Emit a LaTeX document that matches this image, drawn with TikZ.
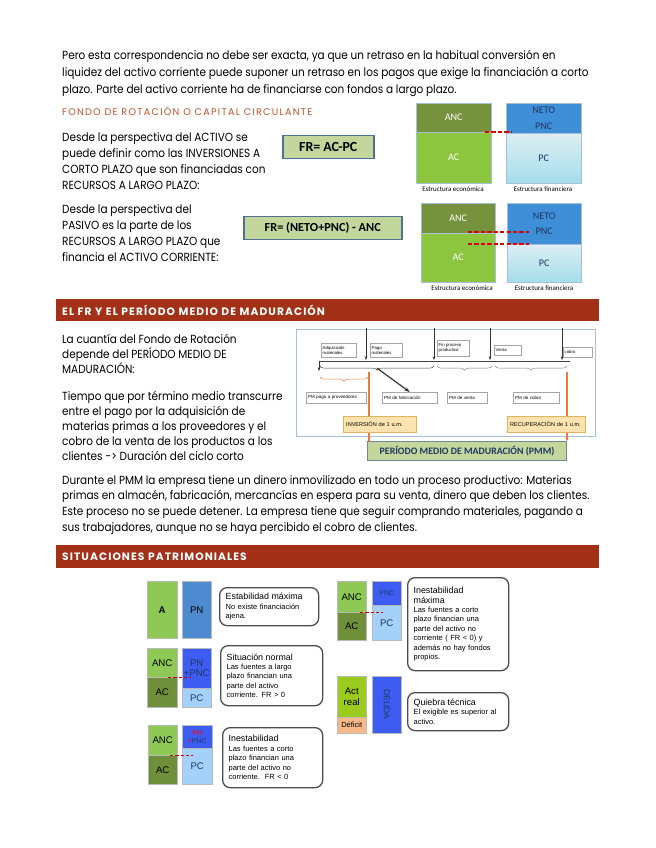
\documentclass[tikz,border=0pt]{standalone}
\usepackage{fontspec}
\setmainfont{Poppins}[FakeStretch=0.89]
\newfontfamily\headfont{Poppins}[LetterSpace=10]
\newfontfamily\thinhead{Poppins}[LetterSpace=13]
\newfontfamily\calfont{Carlito}
\newfontfamily\arialfont{Liberation Sans}
\usetikzlibrary{arrows.meta, decorations.pathreplacing, positioning}

\definecolor{barred}{HTML}{A33118}
\definecolor{headorange}{HTML}{C4532A}
\definecolor{formgreen}{HTML}{C3D69B}
\definecolor{formedge}{HTML}{4F6F95}
\definecolor{olive}{HTML}{76923C}
\definecolor{leaf}{HTML}{8CC63F}
\definecolor{netoblue}{HTML}{3F8ED8}
\definecolor{pctop}{HTML}{DDEEF3}
\definecolor{pcbot}{HTML}{A4DDEB}
\definecolor{navy}{HTML}{1F3864}
\definecolor{framblue}{HTML}{A7C0D6}
\definecolor{invfill}{HTML}{FCE3B0}
\definecolor{invedge}{HTML}{E2B35E}
\definecolor{pmmorange}{HTML}{EE7A3A}
\definecolor{sitgreen}{HTML}{8FC955}
\definecolor{sitolive}{HTML}{6F8F3A}
\definecolor{pnblue}{HTML}{4E8AD0}
\definecolor{deepblue}{HTML}{3C5CF2}
\definecolor{skyblue}{HTML}{A3D1FA}
\definecolor{actreal}{HTML}{9BCB1E}
\definecolor{deficit}{HTML}{F7B88A}

\def\pxu{0.9344pt}

\tikzset{
  body/.style={anchor=north west, inner sep=0, align=left, font=\fontsize{11}{15}\selectfont},
  sz/.style 2 args={minimum width=#1*\pxu, minimum height=#2*\pxu},
  tw/.style={text width=#1*\pxu},
  bar/.style={fill=barred, anchor=north west, inner xsep=6*\pxu, inner ysep=0, text=white, align=left,
    font=\headfont\bfseries\fontsize{10}{11}\selectfont},
  formula/.style={draw=formedge, line width=1.4pt, fill=formgreen, anchor=north west, inner sep=0,
    font=\calfont\bfseries\fontsize{11.5}{13}\selectfont},
  struct/.style={draw=framblue, inner sep=0, anchor=north west, align=center,
    font=\calfont\fontsize{9.5}{14.5}\selectfont},
  captxt/.style={inner sep=0, font=\calfont\fontsize{6.5}{7}\selectfont},
  reddash/.style={red!85!black, line width=1.6pt, dash pattern=on 4pt off 2pt},
  ev/.style={draw=gray!70, anchor=north west, align=left, inner xsep=1.5*\pxu, inner ysep=1*\pxu,
    font=\arialfont\fontsize{4}{4.6}\selectfont},
  pm/.style={draw=gray!70, anchor=north west, align=left, inner xsep=2*\pxu, inner ysep=0,
    minimum height=11*\pxu, font=\arialfont\fontsize{4.2}{5}\selectfont},
  um/.style={draw=invedge, fill=invfill, anchor=north west, align=left, inner xsep=3*\pxu, inner ysep=0,
    minimum height=16*\pxu, font=\arialfont\fontsize{5.2}{6}\selectfont},
  evarrow/.style={-{Stealth[length=3.5pt,width=2.5pt]}, black!80},
  curly/.style={decorate, decoration={brace, mirror, amplitude=4pt}},
  sit/.style={draw=gray!55, inner sep=0, anchor=north west, align=center,
    font=\arialfont\fontsize{9}{10}\selectfont},
  note/.style={draw=black!70, line width=1.2pt, rounded corners=7pt, anchor=north west, align=left,
    inner xsep=6*\pxu, inner ysep=2*\pxu, font=\arialfont\fontsize{7}{8.8}\selectfont}
}

\begin{document}
\begin{tikzpicture}[x=0.9344pt, y=-0.9344pt]
\useasboundingbox (0,0) rectangle (655,848);
\fill[white] (0,0) rectangle (655,848);

% opening paragraph
\node[body, font=\fontsize{11}{15.9}\selectfont] (intro) at (62,50) {Pero esta correspondencia no debe ser exacta, ya que un retraso en la habitual conversión en\\
liquidez del activo corriente puede suponer un retraso en los pagos que exige la financiación a corto\\
plazo. Parte del activo corriente ha de financiarse con fondos a largo plazo.};

\node[anchor=north west, inner sep=0, text=headorange, font=\thinhead\fontsize{9}{10}\selectfont] (fondo) at (62,106)
  {FONDO DE ROTACIÓN O CAPITAL CIRCULANTE};

\node[body] (activo) at (62,132) {Desde la perspectiva del ACTIVO se\\
puede definir como las INVERSIONES A\\
CORTO PLAZO que son financiadas con\\
RECURSOS A LARGO PLAZO:};
\node[body] (pasivo) at (62,204) {Desde la perspectiva del\\
PASIVO es la parte de los\\
RECURSOS A LARGO PLAZO que\\
financia el ACTIVO CORRIENTE:};

\node[formula, sz={91}{23}, font=\calfont\bfseries\fontsize{13}{14}\selectfont] (frA) at (282,135) {FR= AC-PC};
\node[formula, sz={158}{23}] (frB) at (243,216) {FR= (NETO+PNC) - ANC};

% estructura economica / financiera
\node[struct, sz={75}{29}, fill=olive, text=white] (ancA) at (416,103) {ANC};
\node[struct, sz={75}{51}, fill=leaf, text=white] (acA) at (416,132) {AC};
\node[struct, sz={75}{30}, fill=netoblue, text=navy] (netoA) at (506,103) {NETO\\PNC};
\node[struct, sz={75}{50}, top color=pctop, bottom color=pcbot, text=navy] (pcA) at (506,133) {PC};
\node[captxt] (ecoA) at (453,189) {Estructura económica};
\node[captxt] (finA) at (543,189) {Estructura financiera};
\draw[reddash] (485,132) -- (512,132);

\node[struct, sz={74}{30}, fill=olive, text=white] (ancB) at (421,203) {ANC};
\node[struct, sz={74}{49}, fill=leaf, text=white] (acB) at (421,233) {AC};
\node[struct, sz={74}{41}, fill=netoblue, text=navy] (netoB) at (507,203) {NETO\\PNC};
\node[struct, sz={74}{38}, top color=pctop, bottom color=pcbot, text=navy] (pcB) at (507,244) {PC};
\node[captxt] (ecoB) at (462,288) {Estructura económica};
\node[captxt] (finB) at (544,288) {Estructura financiera};
\draw[reddash] (468,232) -- (529,232);
\draw[reddash] (468,244) -- (529,244);

% periodo medio de maduracion
\node[bar, tw=531, sz={543}{22}] (barA) at (56,299) {EL FR Y EL PERÍODO MEDIO DE MADURACIÓN};

\node[body, font=\fontsize{11}{14}\selectfont] (cuantia) at (62,334) {La cuantía del Fondo de Rotación\\
depende del PERÍODO MEDIO DE\\
MADURACIÓN:};
\node[body, font=\fontsize{11}{14}\selectfont] (tiempo) at (62,391) {Tiempo que por término medio transcurre\\
entre el pago por la adquisición de\\
materias primas a los proveedores y el\\
cobro de la venta de los productos a los\\
clientes -> Duración del ciclo corto};

\node[draw=framblue, line width=0.8pt, anchor=north west, sz={299}{107}] (pmmframe) at (296,329) {};

\coordinate (tlL) at (319,361);
\coordinate (tlR) at (570,361);
\draw[black!75] (tlL) -- (tlR);

\node[ev, tw=32, sz={35}{14}] (adq) at (321,343) {Adquisición\\materiales};
\node[ev, tw=29, sz={32}{14}] (pago) at (370,343) {Pago\\materiales};
\node[ev, tw=29, sz={32}{16}] (fin) at (437,340) {Fin proceso\\productivo};
\node[ev, tw=24, sz={27}{10}] (venta) at (494,345) {Venta};
\node[ev, tw=26, sz={29}{10}] (cobro) at (563,347) {cobro};

\foreach \xx/\nm in {366/pago, 434/fin, 490/venta, 562/cobro} {
  \coordinate (\nm up) at (\xx,328);
  \coordinate (\nm dn) at (\xx,360);
  \draw[evarrow] (\nm up) -- (\nm dn);
}
\coordinate (adqdn) at (319,371);
\draw[evarrow] (tlL) -- (adqdn);

\draw[curly, black!75] (320,366) -- (434,366) coordinate[pos=0.5] (fabtip);
\draw[curly, gray] (437,366) -- (492,366);
\draw[curly, gray] (495,366) -- (567,366);
\draw[curly, pmmorange] (320,377) -- (368,377);

\node[pm, tw=56, sz={60}{11}] (pmpago) at (306,392) {PM pago a proveedores};
\node[pm, tw=51, sz={55}{11}] (pmfab) at (382,392) {PM de fabricación};
\node[pm, tw=36, sz={40}{11}] (pmven) at (447,392) {PM de venta};
\node[pm, tw=42, sz={46}{11}] (pmcob) at (513,392) {PM de cobro};

\draw[-{Stealth[length=5pt,width=3.5pt]}, line width=1.1pt, black!80] ([yshift=-2pt]fabtip) -- (pmfab.north);

\node[formula, line width=1.1pt, draw=framblue!70!black, sz={199}{19}, text=navy,
  font=\calfont\bfseries\fontsize{9.2}{11}\selectfont] (pmm) at (367,441) {PERÍODO MEDIO DE MADURACIÓN (PMM)};

\coordinate (invtop) at (369,372);
\coordinate (rectop) at (567,372);
\draw[pmmorange, line width=1.1pt] (invtop) -- (invtop |- pmm.north);
\draw[pmmorange, line width=1.1pt, -{Stealth[length=3pt,width=3pt]}] (rectop) -- (rectop |- pmm.north);

\node[um, tw=67, sz={73}{16}] (inv) at (343,416) {INVERSIÓN de 1 u.m.};
\node[um, tw=72, sz={78}{16}] (rec) at (507,416) {RECUPERACIÓN de 1 u.m.};

\node[body, font=\fontsize{11}{14.6}\selectfont] (durante) at (62,475) {Durante el PMM la empresa tiene un dinero inmovilizado en todo un proceso productivo: Materias\\
primas en almacén, fabricación, mercancías en espera para su venta, dinero que deben los clientes.\\
Este proceso no se puede detener. La empresa tiene que seguir comprando materiales, pagando a\\
sus trabajadores, aunque no se haya percibido el cobro de clientes.};

% situaciones patrimoniales
\node[bar, tw=531, sz={543}{23}] (barB) at (56,545) {SITUACIONES PATRIMONIALES};

\node[sit, sz={30}{57}, fill=sitgreen, font=\arialfont\bfseries\fontsize{9}{10}\selectfont] (aA) at (147,581) {A};
\node[sit, sz={29}{57}, fill=pnblue] (pnA) at (182,581) {PN};
\node[note, tw=87, sz={99}{38}] (noteA) at (219,587)
  {{\fontsize{8.3}{9}\selectfont Estabilidad máxima}\\No existe financiación\\ajena.};

\node[sit, sz={30}{29}, fill=sitgreen] (ancC) at (147,648) {ANC};
\node[sit, sz={30}{30}, fill=sitolive] (acC) at (147,677) {AC};
\node[sit, sz={29}{40}, fill=deepblue, text=navy] (pnpncC) at (182,648) {PN\\+PNC};
\node[sit, sz={29}{19}, fill=skyblue, text=navy] (pcC) at (182,688) {PC};
\draw[red!80!black, densely dashed, line width=0.6pt] (168,677) -- (191,677);
\node[note, tw=90, sz={102}{60}] (noteB) at (220,645)
  {{\fontsize{8.3}{9}\selectfont Situación normal}\\Las fuentes a largo\\plazo financian una\\parte del activo\\corriente. FR > 0};

\node[sit, sz={29}{30}, fill=sitgreen] (ancD) at (148,725) {ANC};
\node[sit, sz={29}{29}, fill=sitolive] (acD) at (148,755) {AC};
\node[sit, sz={30}{23}, fill=deepblue, text=navy, font=\arialfont\fontsize{6.5}{7.5}\selectfont] (pnD) at (182,725)
  {\textcolor{red}{PN}\\\textcolor{red}{+}PNC};
\node[sit, sz={30}{36}, fill=skyblue, text=navy] (pcD) at (182,748) {PC};
\draw[red!80!black, densely dashed, line width=0.6pt] (170,755) -- (193,755);
\node[note, tw=88, sz={100}{60}] (noteC) at (222,727)
  {{\fontsize{8.3}{9}\selectfont Inestabilidad}\\Las fuentes a corto\\plazo financian una\\parte del activo no\\corriente.\ \ FR < 0};

\node[sit, sz={29}{31}, fill=sitgreen] (ancE) at (337,581) {ANC};
\node[sit, sz={29}{28}, fill=sitolive] (acE) at (337,612) {AC};
\node[sit, sz={29}{24}, fill=deepblue, text=navy, font=\arialfont\fontsize{6.5}{7.5}\selectfont] (pncE) at (372,581) {PNC};
\node[sit, sz={29}{35}, fill=skyblue, text=navy] (pcE) at (372,605) {PC};
\draw[red!80!black, densely dashed, line width=0.6pt] (360,612) -- (383,612);
\node[note, tw=89, sz={101}{93}] (noteD) at (407,577)
  {{\fontsize{8.3}{11.5}\selectfont Inestabilidad\\máxima}\\Las fuentes a corto\\plazo financian una\\parte del activo no\\corriente ( FR < 0) y\\además no hay fondos\\propios.};

\node[sit, sz={29}{41}, fill=actreal] (actF) at (337,676) {Act\\real};
\node[sit, sz={29}{16}, fill=deficit, font=\arialfont\fontsize{7}{8}\selectfont] (defF) at (337,717) {Déficit};
\node[sit, sz={29}{57}, fill=deepblue, text=navy] (deudaF) at (372,676) {};
\node[rotate=-90, inner sep=0, text=navy, font=\arialfont\fontsize{8}{9}\selectfont] (deudaT) at (deudaF.center) {DEUDA};
\node[note, tw=89, sz={101}{38}] (noteE) at (407,692)
  {{\fontsize{8.3}{9}\selectfont Quiebra técnica}\\El exigible es superior al\\activo.};
\end{tikzpicture}
\end{document}
